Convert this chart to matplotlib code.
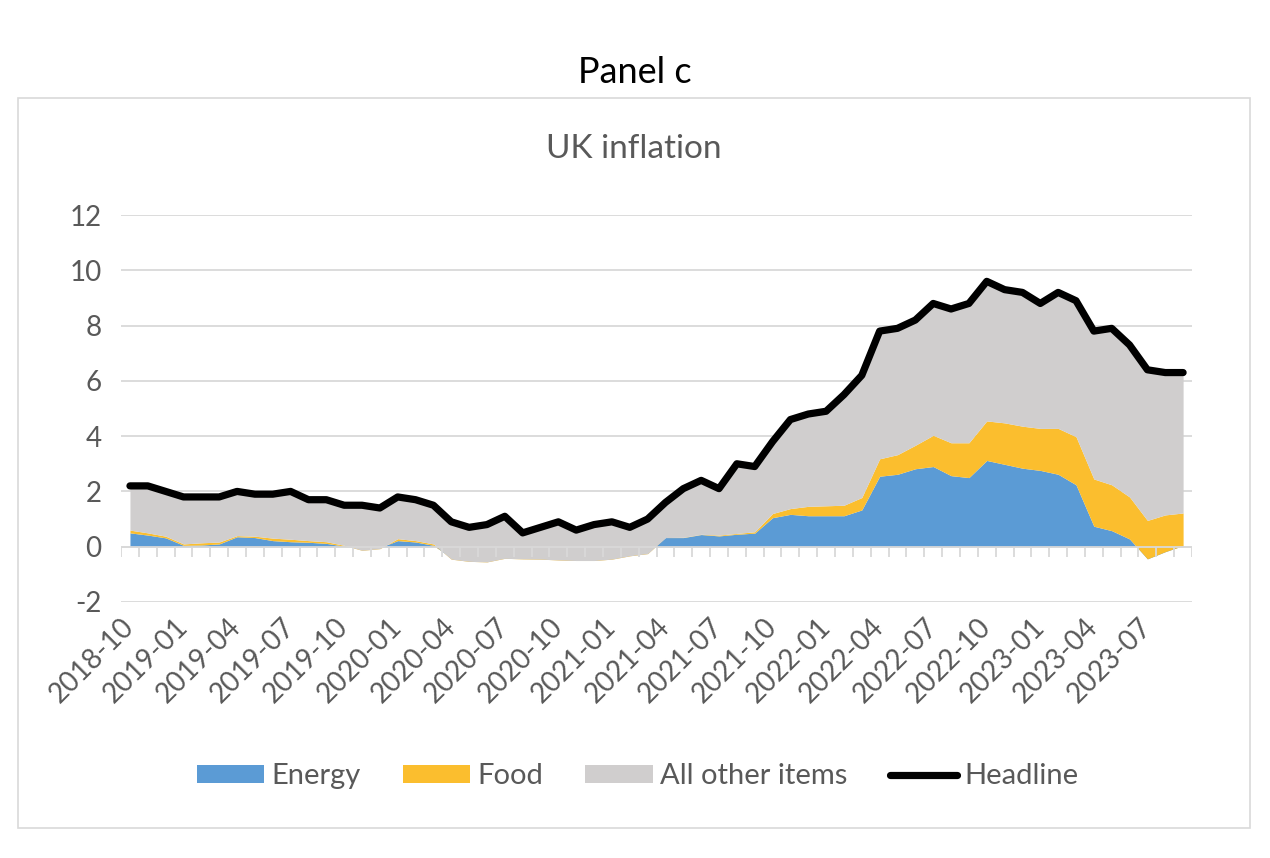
import numpy as np
import pandas as pd
import matplotlib
matplotlib.use('Agg')
import matplotlib.pyplot as plt
from matplotlib.patches import Rectangle, Patch
from matplotlib.lines import Line2D

plt.rcParams['font.family'] = ['Lato', 'DejaVu Sans']
plt.rcParams['axes.unicode_minus'] = False

# monthly, 2018-10 .. 2023-09
months = pd.period_range('2018-10', '2023-09', freq='M').strftime('%Y-%m').tolist()

# contributions to annual inflation, percentage points
energy = [0.50, 0.42, 0.32, 0.05, 0.06, 0.10, 0.36, 0.33, 0.22, 0.18,
          0.16, 0.12, 0.02, -0.05, -0.03, 0.22, 0.17, 0.05, -0.40, -0.48,
          -0.50, -0.40, -0.42, -0.42, -0.45, -0.48, -0.48, -0.42, -0.30, -0.22,
          0.33, 0.33, 0.44, 0.39, 0.45, 0.49, 1.05, 1.17, 1.12, 1.12,
          1.12, 1.33, 2.55, 2.62, 2.82, 2.90, 2.57, 2.50, 3.12, 2.98,
          2.84, 2.76, 2.62, 2.24, 0.74, 0.58, 0.28, -0.44, -0.18, 0.04]
food = [0.10, 0.08, 0.06, 0.05, 0.08, 0.07, 0.04, 0.05, 0.09, 0.09,
        0.06, 0.06, 0.03, -0.08, -0.04, 0.07, 0.05, 0.05, -0.05, -0.05,
        -0.05, -0.02, -0.02, -0.03, -0.03, -0.02, -0.02, -0.03, -0.03, -0.03,
        0.00, 0.01, 0.01, 0.03, 0.03, 0.05, 0.15, 0.21, 0.34, 0.36,
        0.38, 0.45, 0.63, 0.71, 0.85, 1.13, 1.19, 1.26, 1.43, 1.50,
        1.52, 1.52, 1.66, 1.74, 1.71, 1.66, 1.52, 1.39, 1.33, 1.18]
other = [1.60, 1.70, 1.62, 1.70, 1.66, 1.63, 1.60, 1.52, 1.59, 1.73,
         1.48, 1.52, 1.45, 1.63, 1.47, 1.51, 1.48, 1.40, 1.35, 1.23,
         1.35, 1.52, 0.94, 1.15, 1.38, 1.10, 1.30, 1.35, 1.03, 1.25,
         1.27, 1.76, 1.95, 1.68, 2.52, 2.36, 2.60, 3.22, 3.34, 3.42,
         4.00, 4.42, 4.62, 4.57, 4.53, 4.77, 4.84, 5.04, 5.05, 4.82,
         4.84, 4.52, 4.92, 4.92, 5.35, 5.66, 5.50, 5.45, 5.15, 5.08]
headline = [2.2, 2.2, 2.0, 1.8, 1.8, 1.8, 2.0, 1.9, 1.9, 2.0,
            1.7, 1.7, 1.5, 1.5, 1.4, 1.8, 1.7, 1.5, 0.9, 0.7,
            0.8, 1.1, 0.5, 0.7, 0.9, 0.6, 0.8, 0.9, 0.7, 1.0,
            1.6, 2.1, 2.4, 2.1, 3.0, 2.9, 3.8, 4.6, 4.8, 4.9,
            5.5, 6.2, 7.8, 7.9, 8.2, 8.8, 8.6, 8.8, 9.6, 9.3,
            9.2, 8.8, 9.2, 8.9, 7.8, 7.9, 7.3, 6.4, 6.3, 6.3]

BLUE = '#5B9BD5'
GOLD = '#FBBE2E'
GREY = '#D0CECE'
GRID = '#D9D9D9'
TXT = '#595959'
LW = 5.2

fig = plt.figure(figsize=(12.7, 8.58), dpi=100)
ax = fig.add_axes([0.0953, 0.2984, 0.8433, 0.451])

x = np.arange(len(months))
e = np.array(energy)
f = np.array(food)
o = np.array(other)

# stacked areas, drawn in order like excel does
ax.fill_between(x, 0, e, color=BLUE, lw=0, zorder=2)
ax.fill_between(x, e, e + f, color=GOLD, lw=0, zorder=2)
ax.fill_between(x, e + f, e + f + o, color=GREY, lw=0, zorder=2)
ax.plot(x, headline, color='black', lw=LW, solid_capstyle='round',
        solid_joinstyle='round', zorder=5)

ax.set_xlim(-0.5, len(months) - 0.5)
ax.set_ylim(-2, 12)
ax.set_yticks(range(-2, 13, 2))
for sp in ax.spines.values():
    sp.set_visible(False)
ax.grid(axis='y', color=GRID, lw=1.3)
ax.set_axisbelow(True)

# category axis sits at zero with small tick marks between categories
ax.axhline(0, color=GRID, lw=1.3, zorder=3)
ax.vlines(np.arange(-0.5, len(months)), -0.36, 0, color=GRID, lw=1.3, zorder=3)

ax.tick_params(axis='both', length=0, labelsize=20, labelcolor=TXT)
ax.tick_params(axis='y', pad=14)
ax.tick_params(axis='x', pad=15)
ax.set_xticks(x[::3])
ax.set_xticklabels(months[::3], rotation=45, ha='right', va='center',
                   rotation_mode='anchor')

fig.text(0.5, 0.915, 'Panel c', ha='center', va='center', fontsize=26, color='black')
fig.text(0.499, 0.826, 'UK inflation', ha='center', va='center', fontsize=24, color=TXT)

fig.add_artist(Rectangle((0.0142, 0.035), 0.9701, 0.8508, transform=fig.transFigure,
                         fill=False, ec=GRID, lw=1.2))

handles = [Patch(facecolor=BLUE), Patch(facecolor=GOLD), Patch(facecolor=GREY),
           Line2D([], [], color='black', lw=LW, solid_capstyle='round')]
labels = ['Energy', 'Food', 'All other items', 'Headline']
fig.legend(handles, labels, loc='center', bbox_to_anchor=(0.502, 0.0955), ncol=4,
           frameon=False, fontsize=21, labelcolor=TXT, handlelength=2.3,
           handleheight=0.55, handletextpad=0.25, columnspacing=1.45)

fig.savefig('out.png', dpi=100)
